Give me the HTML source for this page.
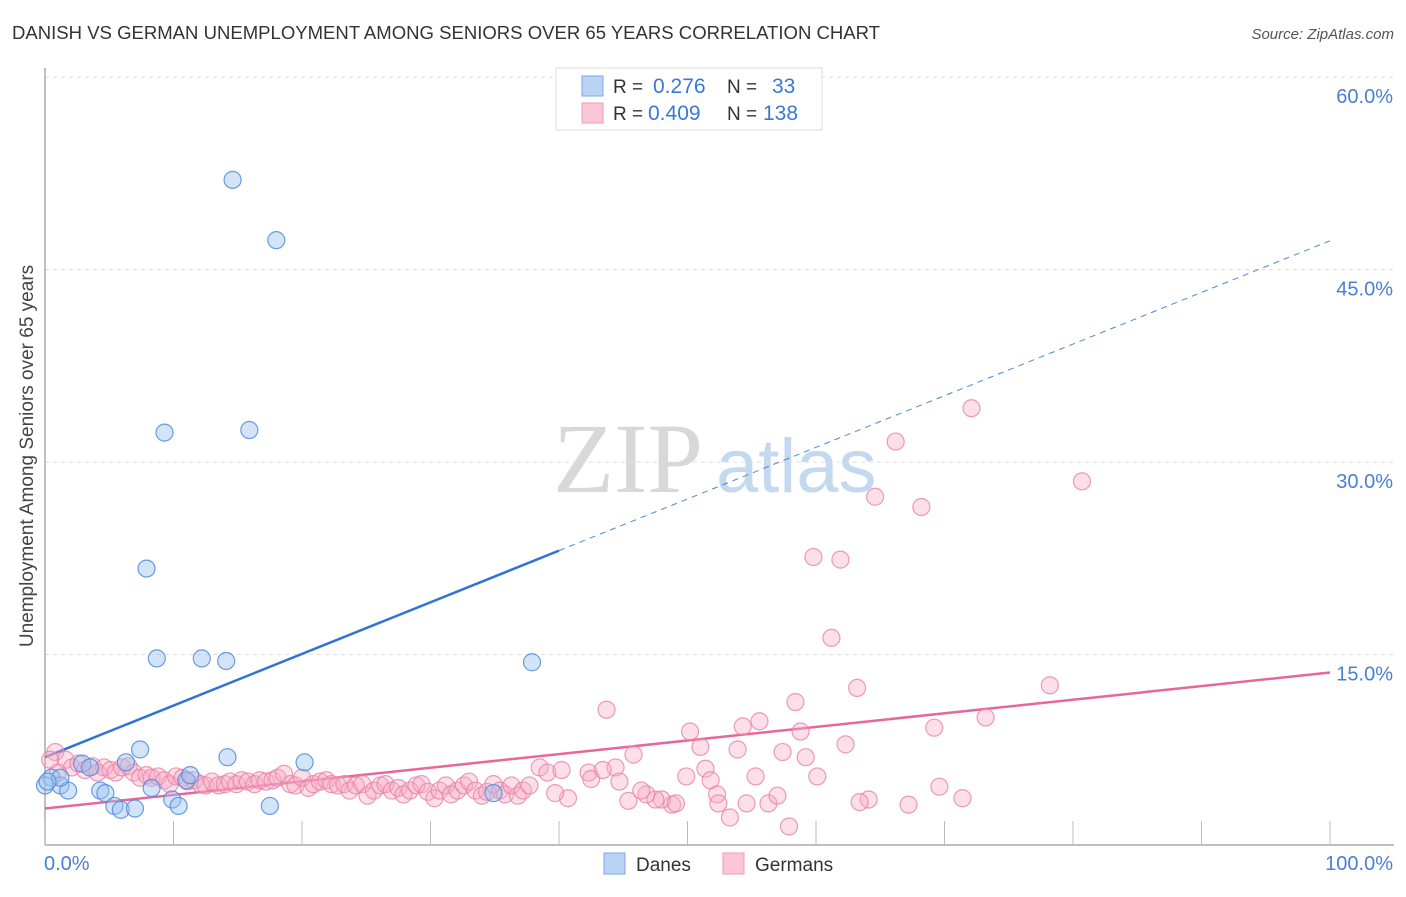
<!DOCTYPE html>
<html><head><meta charset="utf-8"><style>
body{margin:0;background:#fff;font-family:"Liberation Sans",sans-serif}
svg text{font-family:"Liberation Sans",sans-serif}
</style></head><body>
<svg width="1406" height="892" viewBox="0 0 1406 892">
<text x="12" y="39" font-size="18.5" fill="#333" textLength="868" lengthAdjust="spacingAndGlyphs">DANISH VS GERMAN UNEMPLOYMENT AMONG SENIORS OVER 65 YEARS CORRELATION CHART</text>
<text x="1394" y="39" font-size="15" fill="#555" font-style="italic" text-anchor="end">Source: ZipAtlas.com</text>
<text x="0" y="0" transform="translate(33,456) rotate(-90)" font-size="19" fill="#444" text-anchor="middle">Unemployment Among Seniors over 65 years</text>
<g>
<text x="553" y="492" font-size="100" fill="#d8d8d8" font-family="Liberation Serif" style="font-family:'Liberation Serif',serif">ZIP</text>
<text x="716" y="492" font-size="76" fill="#c4d8f0">atlas</text>
</g>
<g id="grid"></g>
<g id="axes"></g>
<g id="trend"></g>
<g id="pts"></g>
<g>
<rect x="556" y="68" width="266" height="62" fill="#fff" stroke="#ddd"/>
<rect x="582" y="76" width="21" height="20" fill="#b9d3f5" stroke="#7aa7e6"/>
<rect x="582" y="103" width="21" height="20" fill="#fbc6d6" stroke="#f09ab7"/>
<text x="613" y="93" font-size="19" fill="#333">R = </text><text x="653" y="93" font-size="21" fill="#3a78d8">0.276</text>
<text x="727" y="93" font-size="19" fill="#333">N = </text><text x="772" y="93" font-size="21" fill="#3a78d8">33</text>
<text x="613" y="120" font-size="19" fill="#333">R = </text><text x="648" y="120" font-size="21" fill="#3a78d8">0.409</text>
<text x="727" y="120" font-size="19" fill="#333">N = </text><text x="763" y="120" font-size="21" fill="#3a78d8">138</text>
</g>
<g>
<rect x="604" y="853" width="21" height="21" fill="#b9d3f5" stroke="#7aa7e6"/>
<text x="636" y="871" font-size="19" fill="#333">Danes</text>
<rect x="723" y="853" width="21" height="21" fill="#fbc6d6" stroke="#f09ab7"/>
<text x="755" y="871" font-size="19" fill="#333">Germans</text>
</g>
</svg>
<script>
const yTicks=[15,30,45,60];
const yTickLabels=["15.0%","30.0%","45.0%","60.0%"];
const xTicks=[0,10,20,30,40,50,60,70,80,90,100];
const danesX=[14.6,18.0,9.3,15.9,7.9,8.7,12.2,14.1,37.9,7.4,6.3,14.2,20.2,2.9,0.5,1.2,1.8,4.3,4.7,5.4,5.9,7.0,9.9,10.4,8.3,11.0,11.3,17.5,34.9,0.0,3.5,1.2,0.2];
const danesY=[52.0,47.3,32.3,32.5,21.7,14.7,14.7,14.5,14.4,7.6,6.6,7.0,6.6,6.5,5.4,4.8,4.4,4.4,4.2,3.2,2.9,3.0,3.7,3.2,4.6,5.2,5.6,3.2,4.2,4.8,6.2,5.4,5.1];
const germansX=[72.1,66.2,80.7,64.6,68.2,59.8,61.9,61.2,63.2,43.7,58.4,78.2,73.2,69.2,55.6,54.3,50.2,58.8,51.0,53.9,57.4,62.3,59.2,45.8,44.4,38.5,39.1,42.3,43.4,49.9,51.4,55.3,60.1,51.8,69.6,71.4,67.2,64.1,63.4,57.9,53.3,54.6,56.3,57.0,52.3,52.4,48.8,48.0,49.1,47.5,46.8,45.4,46.4,44.7,42.5,40.2,40.7,39.7,
0.8,1.6,2.1,2.6,3.1,3.7,4.1,4.6,5.1,5.5,6.0,6.5,6.9,7.4,7.9,8.3,8.8,9.3,9.7,10.2,10.7,11.1,11.6,12.1,12.5,13.0,13.5,14.0,14.4,14.9,15.3,15.8,16.3,16.7,17.2,17.7,18.1,18.6,19.1,19.5,20.0,20.5,20.9,21.4,21.9,22.3,22.8,23.3,23.7,24.2,24.7,25.1,25.6,26.1,26.5,27.0,27.5,27.9,28.4,28.9,29.3,29.8,30.3,30.7,31.2,31.6,32.1,32.6,33.0,33.5,34.0,34.4,34.9,35.4,35.8,36.3,36.8,37.2,37.7,0.4,1.0];
const germansY=[34.2,31.6,28.5,27.3,26.5,22.6,22.4,16.3,12.4,10.7,11.3,12.6,10.1,9.3,9.8,9.4,9.0,9.0,7.8,7.6,7.4,8.0,7.0,7.2,6.2,6.2,5.8,5.8,6.0,5.5,6.1,5.5,5.5,5.2,4.7,3.8,3.3,3.7,3.5,1.6,2.3,3.4,3.4,4.0,4.1,3.4,3.3,3.7,3.4,3.7,4.1,3.6,4.4,5.1,5.3,6.0,3.8,4.2,
7.4,6.8,6.2,6.5,6.0,6.3,5.8,6.2,6.0,5.8,6.2,6.3,5.8,5.4,5.6,5.4,5.5,5.2,4.9,5.5,5.4,5.1,5.2,4.9,4.8,5.1,4.8,4.9,5.1,4.9,5.2,5.1,4.9,5.2,5.1,5.2,5.4,5.7,4.9,4.8,5.4,4.6,4.9,5.1,5.2,4.9,4.8,4.9,4.4,4.8,4.9,4.0,4.4,4.8,4.9,4.4,4.6,4.1,4.4,4.8,4.9,4.3,3.8,4.4,4.8,4.1,4.4,4.8,5.1,4.4,4.0,4.3,4.9,4.4,4.1,4.8,4.0,4.4,4.8,6.8,5.8];
const danesTrend=[7.0,47.25];
const germansTrend=[3.0,13.6];
const NS="http://www.w3.org/2000/svg";
const X=v=>45+v*12.85, Y=v=>847-v*12.83;
function mk(tag,attrs,parent){const e=document.createElementNS(NS,tag);for(const k in attrs)e.setAttribute(k,attrs[k]);document.getElementById(parent).appendChild(e);return e;}
yTicks.forEach((t,i)=>{
 const g=mk('line',{x1:45,x2:1394,y1:Y(t),y2:Y(t),stroke:'#ddd','stroke-dasharray':'4,4'},'grid');
 
 
 const l=mk('text',{x:1393,y:Y(t)+26,'font-size':20,fill:'#4a7fd6','text-anchor':'end'},'grid');
 l.textContent=yTickLabels[i];
 
 
});
const ax=mk('line',{x1:45,x2:45,y1:68,y2:845,stroke:'#aaa','stroke-width':1.5},'axes');


const bx=mk('line',{x1:45,x2:1394,y1:845,y2:845,stroke:'#aaa','stroke-width':1.5},'axes');


xTicks.forEach(t=>{const k=mk('line',{x1:X(t),x2:X(t),y1:821,y2:845,stroke:'#bbb'},'axes');
 
 });
const x0=mk('text',{x:44,y:870,'font-size':20,fill:'#4a7fd6'},'axes');x0.textContent='0.0%';


const x1=mk('text',{x:1393,y:870,'font-size':20,fill:'#4a7fd6','text-anchor':'end'},'axes');x1.textContent='100.0%';


function pts(xs,ys,fill,stroke,name){const n=Math.min(xs.length,ys.length);for(let i=0;i<n;i++){
 const c=mk('circle',{cx:X(xs[i]),cy:Y(ys[i]),r:8.5,fill:fill,stroke:stroke,'stroke-width':1.2},'pts');
 
 }}
pts(germansX,germansY,'rgba(246,172,197,0.38)','rgba(232,130,165,0.8)','german-point');
pts(danesX,danesY,'rgba(160,196,240,0.45)','rgba(80,140,220,0.85)','dane-point');
const dm=(v)=>danesTrend[0]+(danesTrend[1]-danesTrend[0])*v/100;
const t1=mk('line',{x1:X(0),y1:Y(dm(0)),x2:X(40),y2:Y(dm(40)),stroke:'#2f73d8','stroke-width':2.5},'trend');


const t2=mk('line',{x1:X(40),y1:Y(dm(40)),x2:X(100),y2:Y(dm(100)),stroke:'#4a86dc','stroke-width':1,'stroke-dasharray':'6,5'},'trend');


const t3=mk('line',{x1:X(0),y1:Y(germansTrend[0]),x2:X(100),y2:Y(germansTrend[1]),stroke:'#e8679a','stroke-width':2.5},'trend');


</script>
</body></html>
